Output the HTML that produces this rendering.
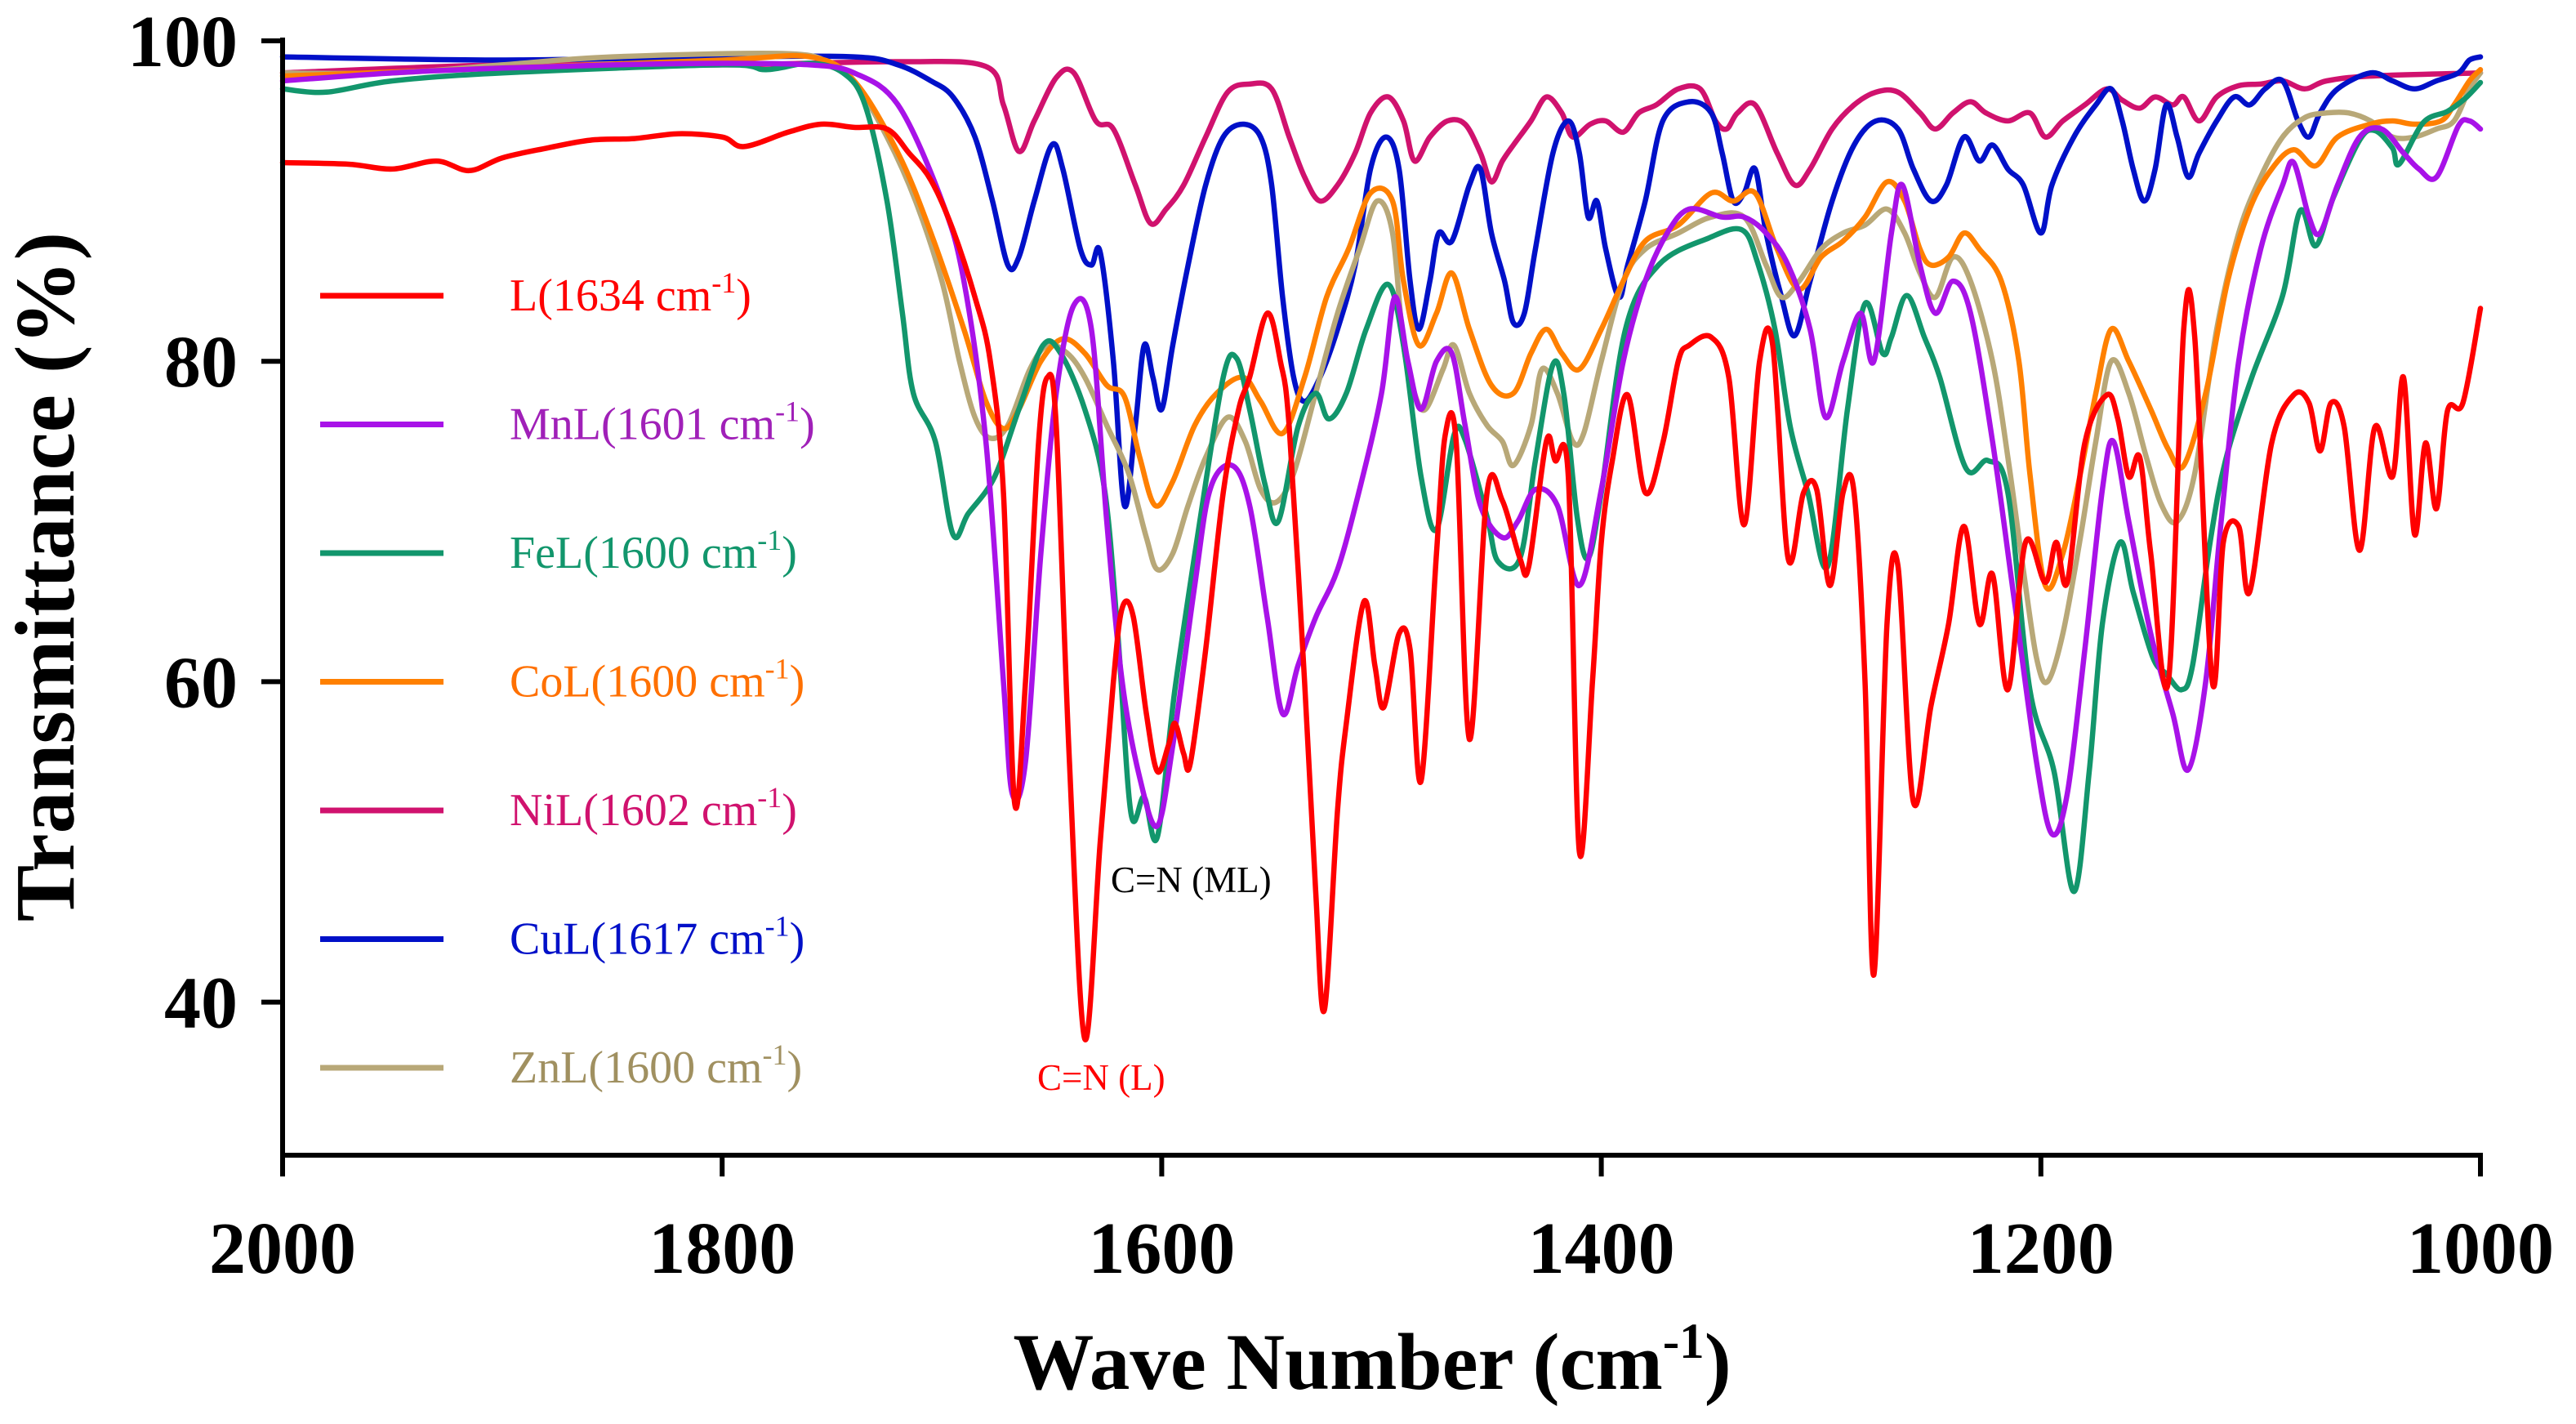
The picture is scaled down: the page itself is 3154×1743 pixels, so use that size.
<!DOCTYPE html>
<html><head><meta charset="utf-8"><style>
html,body{margin:0;padding:0;background:#fff;}
svg{display:block;}
text{font-family:"Liberation Serif",serif;}
</style></head><body>
<svg id="chart" width="3154" height="1743" viewBox="0 0 3154 1743" xmlns="http://www.w3.org/2000/svg">
<g id="series"></g>
<g id="axes"></g>
<g id="legend"></g>
<text x="1360" y="1092" font-size="45" fill="#000">C=N (ML)</text>
<text x="1270" y="1334" font-size="45" fill="#ff0000">C=N (L)</text>
<text x="1680" y="1700" font-size="99" font-weight="bold" text-anchor="middle">Wave Number (cm<tspan dy="-38" font-size="61">-1</tspan><tspan dy="38">)</tspan></text>
<text transform="translate(90,706) rotate(-90)" font-size="104" font-weight="bold" text-anchor="middle">Transmittance (%)</text>
</svg>
<script>
const xTicks=[2000,1800,1600,1400,1200,1000];
const yTicks=[40,60,80,100];
const seriesNames=["NiL","CuL","ZnL","CoL","FeL","MnL","L"];
const legendLabels=["L(1634 cm","MnL(1601 cm","FeL(1600 cm","CoL(1600 cm","NiL(1602 cm","CuL(1617 cm","ZnL(1600 cm"];
const legendKeys=["L","MnL","FeL","CoL","NiL","CuL","ZnL"];
const dataL=[[2000,92.4],[1970,92.3],[1950,92],[1930,92.5],[1915,91.9],[1900,92.7],[1880,93.3],[1860,93.8],[1840,93.9],[1820,94.2],[1800,94],[1790,93.4],[1770,94.3],[1755,94.8],[1740,94.6],[1725,94.5],[1715,93],[1705,91.3],[1695,88.2],[1685,84],[1678,80],[1672,71.8],[1667,52.5],[1662,60],[1656,75],[1652,79],[1648,76],[1642,55],[1635,37.7],[1628,50],[1622,60],[1618,64.6],[1613,64.1],[1607,58],[1602,54.4],[1597,56],[1594,57.4],[1590,55.5],[1587,54.9],[1580,62],[1572,71.8],[1565,77],[1560,79],[1552,83],[1546,80],[1542,75.9],[1535,60],[1530,47],[1526,39.5],[1520,52],[1516,57.4],[1508,65],[1503,61],[1499,58.4],[1492,63],[1487,62],[1482,53.8],[1475,68],[1471,75.4],[1466,74.9],[1460,56.4],[1452,71.8],[1445,71.3],[1437,67.7],[1433,67.2],[1425,75],[1421,73.8],[1415,72.8],[1410,49.4],[1404,60],[1400,68.7],[1395,73.8],[1388,77.9],[1380,71.8],[1372,74.9],[1365,80],[1360,81],[1350,81.5],[1342,79],[1335,69.8],[1328,80],[1322,81],[1315,67.7],[1308,71.8],[1302,72],[1296,66],[1290,71.8],[1285,71.8],[1280,60],[1276,41.7],[1270,63.6],[1265,67.2],[1258,52.5],[1250,58.5],[1242,63.6],[1235,69.7],[1228,63.6],[1222,66.7],[1215,59.5],[1207,68.7],[1198,66.2],[1193,68.7],[1188,66.2],[1180,74.9],[1170,77.9],[1165,76.4],[1160,72.8],[1155,74],[1150,68],[1142,60],[1135,82],[1130,81.5],[1122,60],[1117,68.7],[1110,69.7],[1105,65.6],[1095,74.9],[1085,77.9],[1078,77.4],[1073,74.4],[1068,77.4],[1062,75.9],[1055,68.2],[1048,75.9],[1040,72.8],[1035,79],[1030,69.2],[1025,74.9],[1020,70.8],[1015,76.9],[1008,77.4],[1000,83.3]];
const dataMnL=[[2000,97.5],[1950,98],[1900,98.3],[1850,98.5],[1800,98.6],[1760,98.5],[1740,98],[1720,96],[1700,90],[1690,85],[1680,75],[1672,60],[1668,53],[1662,55],[1655,68],[1648,78],[1640,83.5],[1632,82],[1625,70],[1618,60],[1610,54],[1602,51],[1595,56],[1585,66],[1578,72],[1568,73.5],[1560,71],[1552,64],[1545,58],[1538,61],[1530,64],[1520,67],[1510,72],[1500,78],[1494,84],[1488,80],[1482,77],[1475,80],[1468,80.5],[1462,76],[1455,71],[1445,69],[1438,70],[1430,72],[1420,71],[1410,66],[1400,72],[1390,80],[1380,85],[1370,88],[1360,89.5],[1345,89],[1335,89],[1325,88],[1315,86],[1305,82],[1298,76.5],[1290,80],[1282,83],[1276,80],[1268,88],[1263,91],[1255,86],[1248,83],[1240,85],[1232,83],[1222,75],[1212,65],[1202,55],[1195,50.5],[1188,53],[1180,62],[1172,72],[1167,75],[1160,70],[1150,63],[1140,58],[1133,54.5],[1125,60],[1118,70],[1110,80],[1100,87],[1090,91],[1085,92.4],[1078,89],[1073,88],[1065,91],[1055,94],[1045,94.5],[1035,93],[1028,92],[1020,91.5],[1010,94.7],[1005,95],[1000,94.5]];
const dataFeL=[[2000,97],[1980,96.8],[1950,97.5],[1900,98],[1800,98.5],[1780,98.2],[1760,98.6],[1745,98],[1735,96],[1725,90],[1718,83],[1713,78],[1703,75],[1695,69.2],[1688,70.5],[1676,72.8],[1665,77],[1654,81],[1646,80.5],[1635,77],[1626,72],[1620,63],[1614,51.8],[1608,52.8],[1602,50.3],[1594,59.5],[1583,69.7],[1572,79],[1566,80.2],[1560,77],[1553,72.3],[1547,70],[1538,75.9],[1530,78],[1524,76.4],[1516,78],[1507,82],[1497,84.8],[1490,81],[1482,72.8],[1475,69.5],[1467,75.4],[1462,75.1],[1452,70.3],[1447,67.5],[1437,67.7],[1430,73.8],[1422,79.8],[1417,77.9],[1411,70.3],[1406,67.7],[1400,71.8],[1389,82],[1374,86],[1351,87.7],[1336,88.2],[1329,86.2],[1321,82],[1314,75.9],[1306,71.8],[1297,67.2],[1288,77],[1280,83.6],[1272,80.5],[1268,81.5],[1261,84.1],[1253,81.5],[1246,79],[1234,73.3],[1224,73.8],[1215,71.8],[1205,59.5],[1194,54.4],[1185,46.9],[1178,54.4],[1172,63.6],[1164,68.7],[1158,65.6],[1149,61.5],[1143,60.5],[1136,59.5],[1131,61],[1123,68.7],[1116,73.8],[1104,79],[1090,84.1],[1082,89.4],[1075,87.2],[1067,90.2],[1055,93.8],[1048,94.4],[1040,93.3],[1037,92.3],[1026,94.9],[1015,95.6],[1007,96.4],[1000,97.4]];
const dataCoL=[[2000,97.8],[1900,98.3],[1800,98.8],[1760,99],[1740,97.5],[1720,93],[1705,88],[1690,82],[1680,77.5],[1672,75.8],[1665,77],[1655,80],[1645,81.4],[1635,80.5],[1625,78.5],[1617,77.8],[1610,74],[1603,71],[1595,72.5],[1585,76],[1575,78],[1563,79],[1555,77.5],[1545,75.5],[1535,79],[1525,84],[1515,87],[1505,90.5],[1495,90],[1490,85],[1483,81],[1475,83],[1468,85.5],[1460,82],[1450,78.5],[1440,78],[1432,80.5],[1425,82],[1418,80.5],[1410,79.5],[1400,82],[1390,85],[1380,87.5],[1365,88.5],[1350,90.5],[1340,90],[1330,90.5],[1320,87],[1310,84.5],[1300,86.5],[1290,87.5],[1280,89],[1270,91.2],[1262,90],[1255,87],[1250,86],[1242,86.5],[1235,88],[1228,87],[1218,85],[1210,80],[1205,73],[1198,66],[1190,68],[1182,73],[1175,78],[1168,82],[1160,80],[1150,77],[1142,74.5],[1135,73.5],[1125,78],[1115,85],[1105,89.5],[1095,92],[1085,93.2],[1075,92.2],[1065,94],[1050,94.8],[1040,95],[1030,94.8],[1018,95],[1012,96],[1005,97.5],[1000,98.2]];
const dataNiL=[[2000,98],[1900,98.5],[1800,98.5],[1720,98.7],[1680,98.4],[1672,96],[1665,93.1],[1658,95],[1648,97.7],[1640,98],[1630,95],[1622,94.5],[1612,91],[1605,88.6],[1598,89.5],[1590,91],[1580,94],[1570,96.8],[1560,97.3],[1550,97],[1542,94],[1535,91.5],[1528,90],[1520,91],[1512,93],[1505,95.5],[1497,96.5],[1490,95],[1485,92.5],[1478,94],[1470,95],[1462,94.8],[1455,93],[1450,91.2],[1445,92.5],[1440,93.5],[1432,95],[1425,96.5],[1418,95.5],[1413,94],[1405,94.8],[1398,95],[1390,94.3],[1383,95.5],[1375,96],[1365,97],[1355,97],[1348,95],[1343,94.5],[1338,95.5],[1330,96],[1320,93],[1312,91],[1305,92],[1295,94.5],[1285,96],[1275,96.8],[1265,96.8],[1255,95.5],[1248,94.5],[1240,95.5],[1232,96.2],[1225,95.5],[1215,95],[1205,95.5],[1198,94],[1190,95],[1180,96],[1170,97],[1163,96.3],[1155,95.8],[1148,96.5],[1140,96],[1135,96.5],[1128,95],[1120,96.5],[1110,97.2],[1100,97.3],[1090,97.5],[1080,97],[1070,97.5],[1050,97.8],[1000,98]];
const dataCuL=[[2000,99],[1900,98.8],[1800,99],[1740,99],[1720,98.5],[1705,97.5],[1695,96.5],[1685,94],[1677,90],[1670,86],[1665,86.5],[1658,90],[1650,93.5],[1645,92],[1637,87],[1632,86],[1628,86.8],[1622,80],[1617,71],[1612,76],[1608,81],[1604,79],[1600,77],[1595,81],[1588,86],[1580,91],[1572,94],[1563,94.8],[1555,94],[1550,91],[1545,84],[1540,79],[1535,77.5],[1528,79],[1520,82],[1512,86],[1505,92],[1498,94],[1492,92],[1487,85],[1483,82],[1478,85],[1474,88],[1468,87.5],[1460,91],[1455,92],[1450,88],[1444,85],[1440,82.4],[1435,83],[1430,87],[1422,93],[1415,95],[1410,93],[1406,89],[1402,90],[1398,87],[1392,84],[1388,86],[1380,90],[1372,95],[1360,96.2],[1350,95.5],[1345,93],[1340,90],[1335,90.5],[1330,92],[1325,88],[1318,84],[1312,81.6],[1305,85],[1295,90],[1285,93.5],[1275,95],[1265,94.5],[1258,92],[1250,90],[1243,91],[1235,94],[1228,92.5],[1222,93.5],[1215,92],[1208,91],[1200,88],[1195,91],[1185,94],[1175,96],[1168,97],[1163,95],[1158,92],[1153,90],[1148,92],[1143,96],[1138,94],[1133,91.5],[1128,93],[1120,95],[1112,96.5],[1105,96],[1098,97],[1090,97.5],[1083,95],[1078,94],[1073,95.5],[1065,97],[1050,98],[1040,97.5],[1030,97],[1020,97.5],[1010,98],[1005,98.8],[1000,99]];
const dataZnL=[[2000,98],[1950,98],[1900,98.5],[1850,99],[1770,99.2],[1750,98.5],[1740,97.5],[1725,94],[1712,90],[1700,85],[1692,80],[1685,76.5],[1678,75.2],[1670,76],[1660,79.5],[1652,81],[1643,80.5],[1635,79],[1625,76],[1615,73],[1607,69],[1602,67],[1595,68],[1588,71],[1580,74],[1570,76.5],[1562,75],[1555,72],[1548,71.2],[1540,73],[1530,78],[1520,83],[1510,87],[1502,90],[1495,88],[1490,81],[1485,78],[1480,77],[1472,79.5],[1467,81],[1460,78],[1452,76],[1445,75],[1440,73.5],[1432,76],[1427,79.5],[1420,78],[1413,75],[1408,75.5],[1400,80],[1390,85],[1380,87],[1365,88],[1350,89],[1335,89],[1325,86],[1318,84],[1310,85],[1300,87],[1290,88],[1280,88.5],[1270,89.5],[1262,88],[1255,85.5],[1248,84],[1240,86.5],[1232,85],[1222,80],[1215,74],[1208,67],[1202,61.5],[1197,60],[1190,63],[1182,69],[1175,75],[1168,80],[1160,78],[1152,74],[1145,71],[1138,70],[1130,73],[1120,82],[1110,88],[1100,91.5],[1090,94],[1080,95.2],[1070,95.5],[1060,95.5],[1050,95],[1040,94],[1030,94],[1020,94.5],[1012,95],[1005,97],[1000,98]];
const seriesData={L:dataL,MnL:dataMnL,FeL:dataFeL,CoL:dataCoL,NiL:dataNiL,CuL:dataCuL,ZnL:dataZnL};
const colors={L:"#ff0000",MnL:"#a812e8",FeL:"#12966c",CoL:"#ff8000",NiL:"#d0126e",CuL:"#0010c8",ZnL:"#b8a878"};
const textColors={L:"#ff0000",MnL:"#a020b8",FeL:"#12966c",CoL:"#ff7000",NiL:"#d0126e",CuL:"#0010c8",ZnL:"#a09060"};

const L0=346,R0=3037,T0=50,B0=1414;
const xMin=2000,xMax=1000,yMin=100-(B0-T0)/19.61,yMax=100;
function X(w){return L0+(xMin-w)/(xMin-xMax)*(R0-L0);}
function Y(t){return T0+(yMax-t)/(yMax-yMin)*(B0-T0);}
const NS="http://www.w3.org/2000/svg";
function mk(tag,attrs,parent){const e=document.createElementNS(NS,tag);for(const k in attrs)e.setAttribute(k,attrs[k]);parent.appendChild(e);return e;}
function pathFor(data){
  const p=data.map(d=>[X(d[0]),Y(d[1])]);
  let s="M"+p[0][0].toFixed(1)+","+p[0][1].toFixed(1);
  for(let i=0;i<p.length-1;i++){
    const p0=p[i-1]||p[i],p1=p[i],p2=p[i+1],p3=p[i+2]||p2;
    const c1=[p1[0]+(p2[0]-p0[0])/6,p1[1]+(p2[1]-p0[1])/6];
    const c2=[p2[0]-(p3[0]-p1[0])/6,p2[1]-(p3[1]-p1[1])/6];
    s+="C"+c1[0].toFixed(1)+","+c1[1].toFixed(1)+" "+c2[0].toFixed(1)+","+c2[1].toFixed(1)+" "+p2[0].toFixed(1)+","+p2[1].toFixed(1);
  }
  return s;
}
const sg=document.getElementById("series");
seriesNames.forEach(n=>{
  const el=mk("path",{d:pathFor(seriesData[n]),fill:"none",stroke:colors[n],"stroke-width":6.5,"stroke-linejoin":"round","stroke-linecap":"round"},sg);
  
  
});
const ax=document.getElementById("axes");
const yl=mk("line",{x1:L0,y1:T0-4,x2:L0,y2:B0+3,stroke:"#000","stroke-width":6},ax);


const xl=mk("line",{x1:L0-3,y1:B0,x2:R0+3,y2:B0,stroke:"#000","stroke-width":6},ax);


xTicks.forEach(v=>{
  const t=mk("line",{x1:X(v),y1:B0,x2:X(v),y2:B0+26,stroke:"#000","stroke-width":6},ax);
  
  
  const l=mk("text",{x:X(v),y:1558,"font-size":90,"font-weight":"bold","text-anchor":"middle"},ax);
  l.textContent=v;
  
  
});
yTicks.forEach(v=>{
  const t=mk("line",{x1:L0-26,y1:Y(v),x2:L0,y2:Y(v),stroke:"#000","stroke-width":6},ax);
  
  
  const l=mk("text",{x:291,y:Y(v)+31,"font-size":90,"font-weight":"bold","text-anchor":"end"},ax);
  l.textContent=v;
  
  
});
const lg=document.getElementById("legend");
legendKeys.forEach((k,i)=>{
  const yy=362+i*157.5;
  const ln=mk("line",{x1:392,y1:yy,x2:543,y2:yy,stroke:colors[k],"stroke-width":7},lg);
  
  
  const tx=mk("text",{x:624,y:yy+18,"font-size":56,fill:textColors[k]},lg);
  
  
  tx.appendChild(document.createTextNode(legendLabels[i]));
  const sup=mk("tspan",{dy:-22,"font-size":36},tx);
  sup.textContent="-1";
  const cl=mk("tspan",{dy:22},tx);
  cl.textContent=")";
});
</script>
</body></html>
